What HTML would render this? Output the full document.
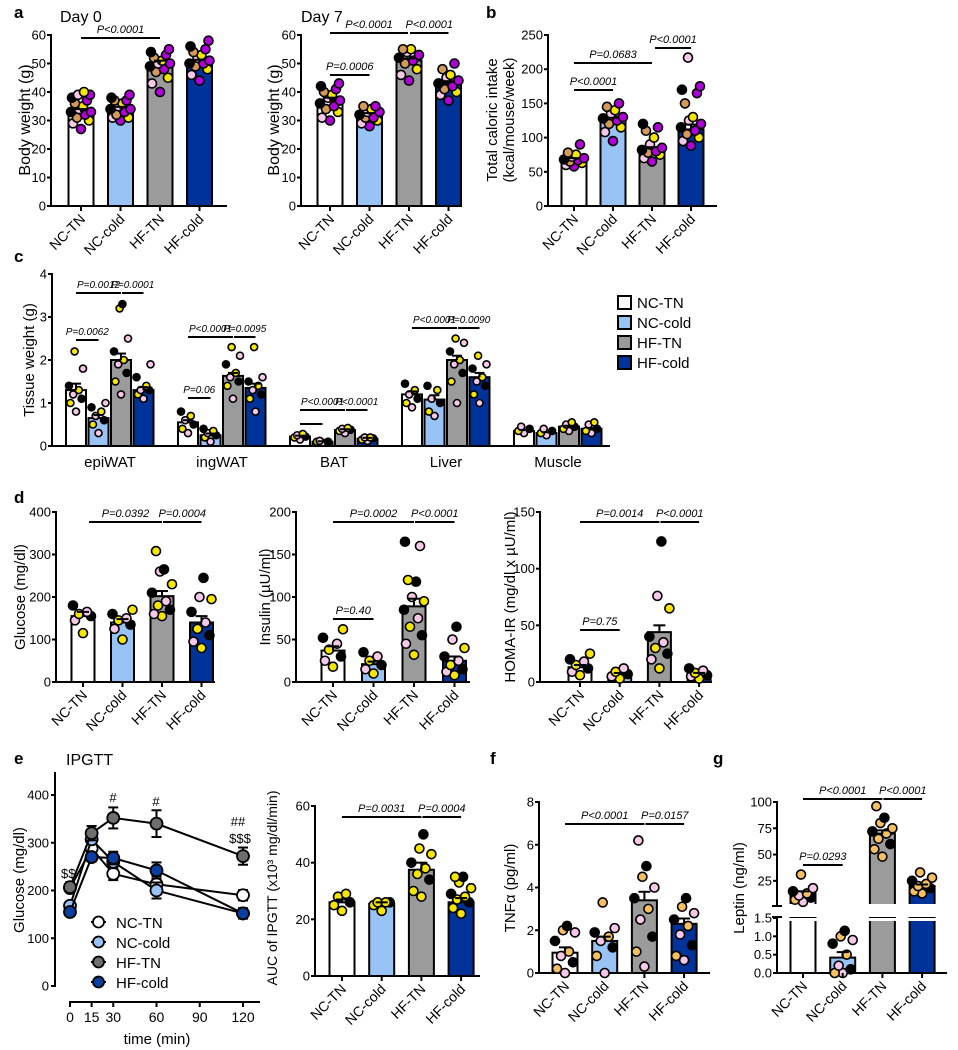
<!DOCTYPE html>
<html><head><meta charset="utf-8"><style>
body{margin:0;background:#fff;}
svg{display:block;font-family:"Liberation Sans",Arial,sans-serif;}
</style></head><body>
<svg id="fig" width="958" height="1050" viewBox="0 0 958 1050" xmlns="http://www.w3.org/2000/svg"></svg>
<script>
// ---------- DATA ----------
const groups = ["NC-TN","NC-cold","HF-TN","HF-cold"];
const day0Means = [33,34,50,50.5];
const day0Err = [1,0.8,1,0.8];
const day0Pts = [[27,29,30,31,32,33,33,34,35,36,37,38,39,39,40],[30,31,31,32,33,34,34,35,36,37,37,38,39],[40,43,45,47,48,49,50,50,51,52,53,54,55],[44,46,48,49,50,50,51,52,53,54,55,56,58]];
const day7Means = [37,32,51,43];
const day7Err = [1,0.6,0.8,0.8];
const day7Pts = [[30,31,33,34,35,36,37,38,39,40,41,42,43],[28,29,30,31,31,32,33,33,34,35,35],[44,46,48,50,51,52,53,54,55,55],[37,39,40,41,42,43,44,45,46,48,50]];
const kcalMeans = [68,125,82,112];
const kcalErr = [2,4,4,7];
const kcalPts = [[58,60,63,65,67,68,70,72,75,78,90],[95,108,115,120,125,128,130,135,140,145,150],[65,70,75,78,80,82,85,90,100,110,115,120],[88,95,100,105,110,115,120,125,130,150,165,170,175,217]];
const tissues = ["epiWAT","ingWAT","BAT","Liver","Muscle"];
const tissueMeans = [[1.3,0.65,2.0,1.3],[0.55,0.25,1.63,1.35],[0.22,0.1,0.37,0.17],[1.2,1.08,2.0,1.6],[0.35,0.3,0.45,0.4]];
const tissueErr = [[0.15,0.07,0.15,0.07],[0.05,0.04,0.07,0.1],[0.02,0.01,0.02,0.02],[0.07,0.1,0.1,0.1],[0.02,0.02,0.02,0.02]];
const tissuePts = [
 [[0.8,1.0,1.1,1.2,1.3,1.4,1.8,2.2],[0.3,0.5,0.6,0.7,0.8,0.9,1.0],[1.2,1.5,1.7,1.9,2.0,2.2,2.5,3.2,3.3],[1.1,1.2,1.3,1.3,1.4,1.6,1.9]],
 [[0.3,0.4,0.5,0.6,0.7,0.8],[0.1,0.2,0.25,0.3,0.35,0.4],[1.1,1.4,1.5,1.6,1.7,1.9,2.1,2.3],[0.8,1.1,1.2,1.3,1.4,1.5,1.6,2.3]],
 [[0.15,0.2,0.22,0.25,0.28],[0.08,0.1,0.1,0.12],[0.3,0.35,0.38,0.4,0.42],[0.12,0.15,0.18,0.2,0.2]],
 [[0.9,1.0,1.1,1.2,1.3,1.45],[0.7,0.8,1.0,1.1,1.3,1.4],[1.0,1.5,1.7,1.9,2.0,2.2,2.4,2.5],[1.0,1.2,1.4,1.5,1.6,1.8,1.9,2.1]],
 [[0.3,0.35,0.4,0.45],[0.25,0.3,0.35,0.4],[0.35,0.4,0.45,0.5,0.55],[0.3,0.35,0.4,0.5,0.55]]];
const gluMeans = [155,140,202,140];
const gluErr = [10,8,12,15];
const gluPts = [[115,145,155,160,165,180],[100,125,135,145,150,160,170],[155,160,170,180,190,210,230,260,265,308],[80,95,110,125,140,165,195,200,245]];
const insMeans = [37,21,89,25];
const insErr = [5,3,9,5];
const insPts = [[18,25,30,38,45,52,62],[10,15,20,25,30,35],[32,45,55,65,75,85,95,100,118,120,160,165],[8,12,15,20,25,30,40,50,65]];
const homaMeans = [13,7,44,7];
const homaErr = [2,1,6,1];
const homaPts = [[6,9,12,15,18,20,25],[3,5,7,9,12],[12,20,25,30,35,40,65,76,124],[3,5,6,8,10,12]];
const timePoints = [0,15,30,60,120];
const ipgttNCTN = [205,288,235,213,190];
const ipgttNCcold = [168,307,260,200,152];
const ipgttHFTN = [207,320,352,340,272];
const ipgttHFcold = [155,270,268,242,152];
const ipgttErr = [10,15,22,28,18];
const aucMeans = [26,25.5,37.5,26];
const aucErr = [1,0.5,2.5,1.5];
const aucPts = [[23,25,26,28,29],[23,25,26,26,26],[28,30,34,36,38,40,43,45,50],[22,24,26,27,28,29,31,33,35,35]];
const tnfMeans = [0.95,1.5,3.4,2.3];
const tnfErr = [0.25,0.2,0.4,0.25];
const tnfPts = [[0,0.2,0.5,0.8,1,1.5,1.9,2,2.2],[0,0.8,1.2,1.5,1.7,1.9,2.1,3.3],[0.3,1,1.7,2.5,3,3.5,4,4.5,5,6.2],[0.6,0.8,1.3,1.8,2.2,2.5,2.8,3.1,3.5]];
const leptinMeans = [13,0.42,70,20];
const leptinErr = [2,0.15,3,1.5];
const leptinPts = [[5,7,9,11,13,15,18,31],[0,0,0.1,0.2,0.5,0.8,0.9,1.0,1.15],[48,55,60,65,70,72,75,80,85,96],[13,15,18,20,22,25,28,33]];

// ---------- HELPERS ----------
const svg = document.getElementById('fig');
const NS = 'http://www.w3.org/2000/svg';
const barFill = ['#ffffff','#99c2f5','#9b9b9b','#003399'];
const jit = [0,-8,8,-4,4,-10,10,-2,2,-6,6,-9,9,-3,3];
function el(tag, attrs, parent){
  const e = document.createElementNS(NS, tag);
  for (const k in attrs) e.setAttribute(k, attrs[k]);
  (parent||svg).appendChild(e);
  return e;
}
function txt(x,y,s,size,opts,parent){
  const o = Object.assign({x:x,y:y,'font-size':size,fill:'#000'},opts||{});
  const t = el('text',o,parent);
  t.textContent = s;
  return t;
}
function label(x,y,s,size){
  const t = txt(x,y,s,size||17,{'font-weight':'bold'});
  
  
}
function line(x1,y1,x2,y2,w,parent){
  return el('line',{x1:x1,y1:y1,x2:x2,y2:y2,stroke:'#000','stroke-width':w||2},parent);
}
function pval(x1,x2,y,s,parent,fs){
  const g = el('g',{},parent);
  
  
  line(x1,y,x2,y,2,g);
  if (s) txt((x1+x2)/2,y-5,s,fs||11,{'font-style':'italic','text-anchor':'middle'},g);
}
function yAxis(g,x,yTop,yBase,ticks,sc,fmt,size){
  line(x,yTop-1,x,yBase+1,2,g);
  ticks.forEach(t=>{
    const y = sc(t);
    line(x-4,y,x,y,2,g);
    const tl = txt(x-5,y+4.5,fmt?fmt(t):String(t),size||13,{'text-anchor':'end'},g);
    
    
  });
}
function yTitle(g,x,y,lines,size){
  const t = el('text',{x:0,y:0,'font-size':size||15,'text-anchor':'middle',transform:'translate('+x+','+y+') rotate(-90)'},g);
  lines.forEach((s,i)=>{const ts=el('tspan',{x:0,dy:i?17:0},t);ts.textContent=s;});
  
  
}
function xRot(g,cx,yBase,s){
  const t = el('text',{x:0,y:0,'font-size':14,'text-anchor':'end',transform:'translate('+(cx+5)+','+(yBase+14)+') rotate(-45)'},g);
  t.textContent = s;
  
  
}
function bar(g,cx,bw,y,yBase,i){
  const r = el('rect',{x:cx-bw/2,y:y,width:bw,height:Math.max(0,yBase-y),fill:barFill[i],stroke:'#000','stroke-width':2},g);
  
  
}
function errBar(g,cx,y1,y2,cap){
  line(cx,y1,cx,y2,2,g); line(cx-cap,y1,cx+cap,y1,2,g);
}
function dots(g,cx,pts,sc,colors,r,spread){
  pts.forEach((v,k)=>{
    const c = el('circle',{cx:cx+jit[k%jit.length]*spread,cy:sc(v),r:r,fill:colors[k%colors.length],stroke:'#000','stroke-width':1.6},g);
    
    
  });
}
function barPanel(o){
  const g = el('g',{});
  
  
  const sc = v => o.yBase - v/o.max*(o.yBase-o.yTop);
  line(o.x0,o.yBase,o.xEnd,o.yBase,2,g);
  o.means.forEach((m,i)=>{
    const cx = o.c0 + i*o.pitch;
    bar(g,cx,o.bw,sc(m),o.yBase,i);
    line(cx,o.yBase,cx,o.yBase+5,2,g);
    dots(g,cx,o.pts[i],sc,o.colors,o.r||4.5,o.spread||1);
    errBar(g,cx,sc(m+o.err[i]),sc(m),6);
    xRot(g,cx,o.yBase,groups[i]);
  });
  yAxis(g,o.x0,o.yTop,o.yBase,o.ticks,sc,null,o.tick||13);
  yTitle(g,o.tx,o.ty,o.title,o.tsize);
  (o.pv||[]).forEach(p=>pval(o.c0+p[0]*o.pitch+(p[4]||0),o.c0+p[1]*o.pitch+(p[5]||0),p[2],p[3],g));
  return g;
}
const pal1 = ['#b000d8','#f5c8e8','#f5e600','#d49a5a','#b000d8','#000'];
const pal2 = ['#f5e600','#f5c8e8','#000'];
const pal3 = ['#f5c8e8','#f5c060','#000'];

// ---------- PANEL a ----------
label(14,18,'a');
txt(60,22,'Day 0',16);
txt(301,22,'Day 7',16);
barPanel({name:'panel-a-day0',x0:51,xEnd:227,yTop:35,yBase:206,max:60,c0:81,pitch:39.5,bw:25,means:day0Means,err:day0Err,pts:day0Pts,colors:pal1,
  ticks:[0,10,20,30,40,50,60],tx:30,ty:120,title:['Body weight (g)'],tsize:16,pv:[[0,2,38,'P<0.0001']]});
barPanel({name:'panel-a-day7',x0:301,xEnd:462,yTop:35,yBase:206,max:60,c0:330,pitch:39.5,bw:25,means:day7Means,err:day7Err,pts:day7Pts,colors:pal1,
  ticks:[0,10,20,30,40,50,60],tx:279,ty:120,title:['Body weight (g)'],tsize:16,pv:[[0,2,33,'P<0.0001',0,-1],[2,3,33,'P<0.0001',1,0],[0,1,75,'P=0.0006']]});
// ---------- PANEL b ----------
label(486,18,'b');
barPanel({name:'panel-b-caloric-intake',x0:548,xEnd:717,yTop:35,yBase:206,max:250,c0:574,pitch:39,bw:25,means:kcalMeans,err:kcalErr,pts:kcalPts,colors:pal1,
  ticks:[0,50,100,150,200,250],tx:497,ty:120,title:['Total caloric intake','(kcal/mouse/week)'],pv:[[0,1,90,'P<0.0001'],[0,2,63,'P=0.0683'],[2,3,48,'P<0.0001',3,0]]});

// ---------- PANEL c ----------
label(14,262,'c');
(function(){
  const g = el('g',{});
  
  
  const x0=52,xEnd=610,yTop=274,yBase=446,max=4;
  const sc = v => yBase - v/max*(yBase-yTop);
  line(x0,yBase,xEnd,yBase,2,g);
  const gStart=66,gPitch=112,bPitch=22.5,bw=20;
  tissues.forEach((t,ti)=>{
    tissueMeans[ti].forEach((m,i)=>{
      const cx = gStart+ti*gPitch+i*bPitch+bw/2;
      bar(g,cx,bw,sc(m),yBase,i);
      dots(g,cx,tissuePts[ti][i],sc,pal3.map((c,k)=>k===1?'#f5e600':c),3.5,0.7);
      errBar(g,cx,sc(m+tissueErr[ti][i]),sc(m),5);
    });
    const lt = txt(gStart+ti*gPitch+44,467,t,15,{'text-anchor':'middle'},g);
    
    
  });
  yAxis(g,x0,yTop,yBase,[0,1,2,3,4],sc,null,13);
  yTitle(g,34,360,['Tissue weight (g)'],15);
  const bx = i => gStart+i*bPitch+bw/2;
  pval(bx(0),bx(1),340,'P=0.0062',g,10);
  pval(bx(0),bx(2),293,'P=0.0012',g,10);
  pval(bx(2)+1,bx(3),293,'P=0.0001',g,10);
  pval(gPitch+bx(0),gPitch+bx(1),398,'P=0.06',g,10);
  pval(gPitch+bx(0),gPitch+bx(2),337,'P<0.0001',g,10);
  pval(gPitch+bx(2)+1,gPitch+bx(3),337,'P=0.0095',g,10);
  pval(2*gPitch+bx(0),2*gPitch+bx(1),424,'',g,10);
  pval(2*gPitch+bx(0),2*gPitch+bx(2),410,'P<0.0001',g,10);
  pval(2*gPitch+bx(2)+1,2*gPitch+bx(3),410,'P<0.0001',g,10);
  pval(3*gPitch+bx(0),3*gPitch+bx(2),328,'P<0.0001',g,10);
  pval(3*gPitch+bx(2)+1,3*gPitch+bx(3),328,'P=0.0090',g,10);
  groups.forEach((s,i)=>{
    const lg = el('g',{},g);
    
    
    el('rect',{x:618,y:296+i*20,width:13,height:13,fill:barFill[i],stroke:'#000','stroke-width':2},lg);
    txt(637,308+i*20,s,15,{},lg);
  });
})();

// ---------- PANEL d ----------
label(14,503,'d');
barPanel({name:'panel-d-glucose',x0:56,xEnd:215,yTop:512,yBase:682,max:400,c0:83,pitch:39.5,bw:23,means:gluMeans,err:gluErr,pts:gluPts,colors:pal2,tick:13,
  ticks:[0,100,200,300,400],tx:25,ty:597,title:['Glucose (mg/dl)'],pv:[[0,2,522,'P=0.0392',6,0],[2,3,522,'P=0.0004',1,0]]});
barPanel({name:'panel-d-insulin',x0:296,xEnd:470,yTop:512,yBase:682,max:200,c0:333,pitch:40.5,bw:23,means:insMeans,err:insErr,pts:insPts,colors:pal2,tick:13,
  ticks:[0,50,100,150,200],tx:270,ty:597,title:['Insulin (µU/ml)'],pv:[[0,2,522,'P=0.0002'],[2,3,522,'P<0.0001',1,0],[0,1,619,'P=0.40']]});
barPanel({name:'panel-d-homa-ir',x0:540,xEnd:712,yTop:512,yBase:682,max:150,c0:580,pitch:39.7,bw:23,means:homaMeans,err:homaErr,pts:homaPts,colors:pal2,tick:13,
  ticks:[0,50,100,150],tx:515,ty:597,title:['HOMA-IR (mg/dl x µU/ml)'],pv:[[0,2,522,'P=0.0014'],[2,3,522,'P<0.0001',1,0],[0,1,630,'P=0.75']]});

// ---------- PANEL e ----------
label(14,764,'e');
txt(66,765,'IPGTT',16);
(function(){
  const g = el('g',{});
  
  
  const ys = v => 986 - v/400*(986-795);
  const xs = t => 70 + t/120*173;
  line(55,772,55,987,2,g);
  [0,100,200,300,400].forEach(t=>{line(51,ys(t),55,ys(t),2,g);
    const tl=txt(49,ys(t)+4.5,String(t),13,{'text-anchor':'end'},g);
    
    });
  line(69,1002,260,1002,2,g);
  [0,15,30,60,90,120].forEach(t=>{line(xs(t),1002,xs(t),1007,2,g);
    const tl=txt(xs(t),1022,String(t),14,{'text-anchor':'middle'},g);
    
    });
  const xt = txt(157,1044,'time (min)',15,{'text-anchor':'middle'},g);
  
  
  yTitle(g,24,880,['Glucose (mg/dl)'],15);
  const series = [ipgttNCTN,ipgttNCcold,ipgttHFTN,ipgttHFcold];
  const fills = ['#ffffff','#99c2f5','#6e6e6e','#0a3fa0'];
  series.forEach((s,si)=>{
    const sg = el('g',{},g);
    
    
    el('polyline',{points:s.map((v,k)=>xs(timePoints[k])+','+ys(v)).join(' '),fill:'none',stroke:'#000','stroke-width':2},sg);
    s.forEach((v,k)=>{
      const e = ipgttErr[k]*(si===2?1:0.6);
      line(xs(timePoints[k]),ys(v-e),xs(timePoints[k]),ys(v+e),2,sg);
      line(xs(timePoints[k])-5,ys(v+e),xs(timePoints[k])+5,ys(v+e),2,sg);
      line(xs(timePoints[k])-5,ys(v-e),xs(timePoints[k])+5,ys(v-e),2,sg);
    });
    s.forEach((v,k)=>{
      const c = el('circle',{cx:xs(timePoints[k]),cy:ys(v),r:6,fill:fills[si],stroke:'#000','stroke-width':1.8},sg);
      
      
    });
  });
  txt(61,878,'$$',13,{},g); txt(113,802,'#',13,{'text-anchor':'middle'},g);
  txt(156,806,'#',13,{'text-anchor':'middle'},g);
  txt(238,826,'##',13,{'text-anchor':'middle'},g); txt(240,843,'$$$',13,{'text-anchor':'middle'},g);
  groups.forEach((s,i)=>{
    const lg = el('g',{},g);
    
    
    line(91,922+i*20,106,922+i*20,2,lg);
    el('circle',{cx:98.5,cy:922+i*20,r:5.5,fill:fills[i],stroke:'#000','stroke-width':1.8},lg);
    txt(116,928+i*20,s,15,{},lg);
  });
})();
barPanel({name:'panel-e-auc',x0:315,xEnd:480,yTop:806,yBase:976,max:60,c0:342,pitch:39.7,bw:25,means:aucMeans,err:aucErr,pts:aucPts,colors:['#f5e600','#f5e600','#000'],
  ticks:[0,20,40,60],tx:277,ty:888,title:['AUC of IPGTT (x10³ mg/dl/min)'],tsize:14,pv:[[0,2,817,'P=0.0031'],[2,3,817,'P=0.0004',1,0]]});

// ---------- PANEL f ----------
label(490,764,'f');
barPanel({name:'panel-f-tnfa',x0:539,xEnd:710,yTop:802,yBase:973,max:8,c0:565,pitch:39.7,bw:25,means:tnfMeans,err:tnfErr,pts:tnfPts,colors:pal3,
  ticks:[0,2,4,6,8],tx:515,ty:888,title:['TNFα (pg/ml)'],pv:[[0,2,824,'P<0.0001'],[2,3,824,'P=0.0157',1,0]]});

// ---------- PANEL g ----------
label(713,764,'g');
(function(){
  const g = el('g',{});
  
  
  const x0=777,xEnd=947,yBase=973;
  const lo = v => 973 - v/1.5*(973-918);
  const hi = v => 905 - (v-2)/98*(905-802);
  const c0=803,pitch=39.7,bw=25;
  line(x0,yBase,xEnd,yBase,2,g);
  leptinMeans.forEach((m,i)=>{
    const cx=c0+i*pitch;
    if (m>1.5){
      bar(g,cx,bw,918,yBase,i);
      el('rect',{x:cx-bw/2-2,y:918,width:bw+4,height:3,fill:'#fff'},g);
      bar(g,cx,bw,hi(m),905,i);
      el('rect',{x:cx-bw/2-2,y:904,width:bw+4,height:3,fill:'#fff'},g);
      dots(g,cx,leptinPts[i],hi,pal3.map(c=>c==='#f5c8e8'&&i!==0?'#f5c060':c),4.5,1);
      errBar(g,cx,hi(m+leptinErr[i]),hi(m),6);
    } else {
      bar(g,cx,bw,lo(m),yBase,i);
      dots(g,cx,leptinPts[i],lo,pal3,4.5,1);
      errBar(g,cx,lo(m+leptinErr[i]),lo(m),6);
    }
    line(cx,yBase,cx,yBase+5,2,g);
    xRot(g,cx,yBase,groups[i]);
  });
  line(x0,801,x0,906,2,g); line(x0,917,x0,974,2,g);
  line(x0-5,906,x0+5,906,2,g); line(x0-5,917,x0+5,917,2,g);
  [25,50,75,100].forEach(t=>{line(x0-4,hi(t),x0,hi(t),2,g);
    const tl=txt(x0-5,hi(t)+4.5,String(t),13,{'text-anchor':'end'},g);
    
    });
  [0,0.5,1,1.5].forEach(t=>{line(x0-4,lo(t),x0,lo(t),2,g);
    const tl=txt(x0-5,lo(t)+4.5,t.toFixed(1),13,{'text-anchor':'end'},g);
    
    });
  yTitle(g,744,888,['Leptin (ng/ml)'],15);
  pval(c0,c0+2*pitch,799,'P<0.0001',g);
  pval(c0+2*pitch+1,c0+3*pitch,799,'P<0.0001',g);
  pval(c0,c0+pitch,865,'P=0.0293',g);
})();
</script>
</body></html>
